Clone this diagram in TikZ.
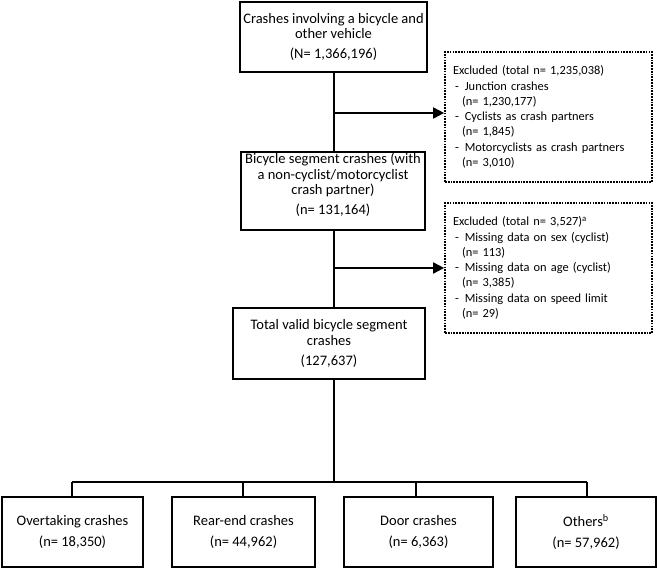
\documentclass[tikz,border=0pt]{standalone}
\usepackage{fontspec}
\setmainfont{Carlito}
\usetikzlibrary{arrows.meta}
\begin{document}
\begin{tikzpicture}[x=1pt,y=-1pt,
  mainfont/.style={font=\fontsize{14.5pt}{15.5pt}\selectfont},
  box/.style={draw, line width=1.8pt, align=center, inner sep=0pt, mainfont},
  plaintext/.style={align=center, inner sep=0pt, mainfont},
  exbox/.style={draw, line width=1.7pt, dash pattern=on 1.7pt off 1.1pt, align=left, inner xsep=8pt, inner ysep=0pt, text width=191pt, minimum height=130pt, font=\fontsize{12.4pt}{15.3pt}\selectfont},
  conn/.style={line width=1.8pt},
  arr/.style={line width=1.8pt, -{Triangle[length=11pt,width=11pt]}}
]
\useasboundingbox (0,0) rectangle (659,569);
\node[box, minimum width=187pt, minimum height=70pt] (n1) at (333.5,37) {Crashes involving a bicycle and\\other vehicle\\[4.5pt](N= 1,366,196)};
\node[box, minimum width=184pt, minimum height=78pt] (n2) at (333,191) {};
\node[plaintext, yshift=6pt] (n2t) at (n2.center) {Bicycle segment crashes (with\\a non-cyclist/motorcyclist\\crash partner)\\[4.5pt](n= 131,164)};
\node[box, minimum width=192pt, minimum height=71pt] (n3) at (329,343.5) {Total valid bicycle segment\\crashes\\[4.5pt](127,637)};
\node[exbox] (e1) at (548.5,117) {Excluded (total n= 1,235,038)\\
\hspace*{2pt}-\hspace*{6pt}Junction crashes\\
\hspace*{9pt}(n= 1,230,177)\\
\hspace*{2pt}-\hspace*{6pt}Cyclists as crash partners\\
\hspace*{9pt}(n= 1,845)\\
\hspace*{2pt}-\hspace*{6pt}Motorcyclists as crash partners\\
\hspace*{9pt}(n= 3,010)};
\node[exbox] (e2) at (548.5,268) {Excluded (total n= 3,527)\textsuperscript{a}\\
\hspace*{2pt}-\hspace*{6pt}Missing data on sex (cyclist)\\
\hspace*{9pt}(n= 113)\\
\hspace*{2pt}-\hspace*{6pt}Missing data on age (cyclist)\\
\hspace*{9pt}(n= 3,385)\\
\hspace*{2pt}-\hspace*{6pt}Missing data on speed limit\\
\hspace*{9pt}(n= 29)};
\node[box, minimum width=141pt, minimum height=70pt] (b1) at (72.5,532) {Overtaking crashes\\[5.5pt](n= 18,350)};
\node[box, minimum width=143pt, minimum height=70pt] (b2) at (243.5,532) {Rear-end crashes\\[5.5pt](n= 44,962)};
\node[box, minimum width=149pt, minimum height=70pt] (b3) at (418.5,532) {Door crashes\\[5.5pt](n= 6,363)};
\node[box, minimum width=140pt, minimum height=70pt] (b4) at (586,532) {Others\textsuperscript{b}\\[5.5pt](n= 57,962)};
\coordinate (spine) at (334,0);
\coordinate (j1) at (334,113);
\coordinate (j2) at (334,268);
\coordinate (hb) at (334,482);
\draw[conn] (n1.south -| spine) -- (n2.north -| spine);
\draw[conn] (n2.south -| spine) -- (n3.north -| spine);
\draw[arr] (j1) -- (j1 -| e1.west);
\draw[arr] (j2) -- (j2 -| e2.west);
\draw[conn] (n3.south -| spine) -- (hb);
\coordinate (d1) at (72,482);
\coordinate (d2) at (243,482);
\coordinate (d3) at (416,482);
\coordinate (d4) at (587,482);
\draw[conn] (d1) -- (d4);
\draw[conn] (d1) -- (d1 |- b1.north);
\draw[conn] (d2) -- (d2 |- b2.north);
\draw[conn] (d3) -- (d3 |- b3.north);
\draw[conn] (d4) -- (d4 |- b4.north);
\end{tikzpicture}
\end{document}
